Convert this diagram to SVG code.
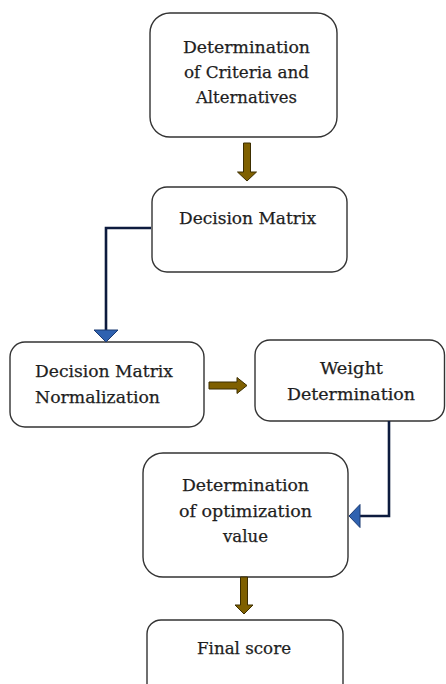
<svg xmlns="http://www.w3.org/2000/svg" width="446" height="684" viewBox="0 0 446 684">
<style>
.box{fill:#fff;stroke:#333;stroke-width:1.4}
.t{font-family:"DejaVu Serif","Liberation Serif",serif;font-size:17px;fill:#1e1e1e;stroke:#1e1e1e;stroke-width:0.25}
.conn{fill:none;stroke:#0d1b3e;stroke-width:2.6}
.bh{fill:#2f62b0;stroke:#1b3a72;stroke-width:1}
.br{fill:#7f6000;stroke:#3d2e00;stroke-width:1}
</style>
<rect width="446" height="684" fill="#fff"/>
<g id="n1">
<rect class="box" x="150" y="13" width="187" height="124" rx="20"/>
<text class="t" x="183" y="53" textLength="127" lengthAdjust="spacingAndGlyphs">Determination</text>
<text class="t" x="184" y="78" textLength="125" lengthAdjust="spacingAndGlyphs">of Criteria and</text>
<text class="t" x="196" y="103" textLength="101" lengthAdjust="spacingAndGlyphs">Alternatives</text>
</g>
<g id="n2">
<rect class="box" x="152" y="187" width="195" height="85" rx="15"/>
<text class="t" x="179" y="224" textLength="137" lengthAdjust="spacingAndGlyphs">Decision Matrix</text>
</g>
<g id="n3">
<rect class="box" x="10" y="342" width="194" height="85" rx="15"/>
<text class="t" x="35" y="377" textLength="138" lengthAdjust="spacingAndGlyphs">Decision Matrix</text>
<text class="t" x="35" y="403" textLength="125" lengthAdjust="spacingAndGlyphs">Normalization</text>
</g>
<g id="n4">
<rect class="box" x="255" y="340" width="189.5" height="81" rx="15"/>
<text class="t" x="320" y="374" textLength="63" lengthAdjust="spacingAndGlyphs">Weight</text>
<text class="t" x="287" y="400" textLength="128" lengthAdjust="spacingAndGlyphs">Determination</text>
</g>
<g id="n5">
<rect class="box" x="143" y="453" width="205" height="124" rx="20"/>
<text class="t" x="182" y="491" textLength="127" lengthAdjust="spacingAndGlyphs">Determination</text>
<text class="t" x="179" y="517" textLength="133" lengthAdjust="spacingAndGlyphs">of optimization</text>
<text class="t" x="223" y="542" textLength="45" lengthAdjust="spacingAndGlyphs">value</text>
</g>
<g id="n6">
<rect class="box" x="147" y="620" width="196" height="90" rx="14"/>
<text class="t" x="197" y="654" textLength="94" lengthAdjust="spacingAndGlyphs">Final score</text>
</g>
<g id="connectors">
<polygon class="br" points="243.5,143 250.5,143 250.5,172 256.5,172 247,181 237.5,172 243.5,172"/>
<polyline class="conn" points="151,228 106,228 106,331"/>
<polygon class="bh" points="94,330 118,330 106,342"/>
<polygon class="br" points="209,382 237,382 237,377.5 247,385.5 237,393.5 237,389 209,389"/>
<polyline class="conn" points="389,421 389,516 359,516"/>
<polygon class="bh" points="360,504.5 360,527.5 349,516"/>
<polygon class="br" points="240.5,577 247.5,577 247.5,605 253,605 244,614 235,605 240.5,605"/>
</g>
</svg>
